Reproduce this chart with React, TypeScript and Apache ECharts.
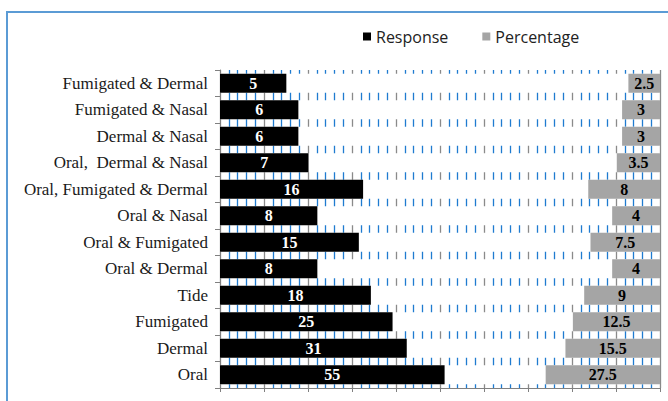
import React, { useEffect, useRef } from "react";
import * as echarts from "echarts";

const categories = [
  "Fumigated & Dermal",
  "Fumigated & Nasal",
  "Dermal & Nasal",
  "Oral,  Dermal & Nasal",
  "Oral, Fumigated & Dermal",
  "Oral & Nasal",
  "Oral & Fumigated",
  "Oral & Dermal",
  "Tide",
  "Fumigated",
  "Dermal",
  "Oral",
];
const responseValues = [5, 6, 6, 7, 16, 8, 15, 8, 18, 25, 31, 55];
const percentageValues = [2.5, 3, 3, 3.5, 8, 4, 7.5, 4, 9, 12.5, 15.5, 27.5];
const gridTicks = 10;

export default function App() {
  const ref = useRef<HTMLDivElement>(null);
  useEffect(() => {
    if (!ref.current) return;
    const chart = echarts.init(ref.current, null, { renderer: "svg" });
    const serif = "'Liberation Serif', 'Times New Roman', serif";
    chart.setOption({
      animation: false,
      backgroundColor: "#ffffff",
      graphic: [
        {
          type: "rect",
          shape: { x: 7, y: 12, width: 700, height: 500 },
          style: { fill: "none", stroke: "#5b9bd5", lineWidth: 2 },
          silent: true,
        },
      ],
      legend: {
        data: ["Response", "Percentage"],
        left: 363,
        top: 28,
        padding: 0,
        itemWidth: 8,
        itemHeight: 8,
        itemGap: 34,
        icon: "rect",
        textStyle: {
          fontFamily: "'Open Sans', sans-serif",
          fontSize: 16,
          color: "#222",
          lineHeight: 17,
        },
      },
      grid: { left: 220, right: 8, top: 70, bottom: 13, containLabel: false },
      xAxis: [
        {
          type: "value",
          min: 0,
          max: gridTicks,
          interval: 1,
          axisLine: { show: true, lineStyle: { color: "#808080" } },
          axisTick: { show: true, length: 4, lineStyle: { color: "#808080" } },
          axisLabel: { show: false },
          splitLine: { show: true, lineStyle: { color: "#8a8a8a", width: 1.3 } },
          minorTick: { show: false, splitNumber: 5 },
          minorSplitLine: { show: true, lineStyle: { color: "#1f7bd0", width: 1.3 } },
        },
        {
          type: "log",
          show: false,
          min: 1.83,
          max: 1438,
          startValue: 1.83,
        },
        {
          type: "log",
          show: false,
          inverse: true,
          min: 1,
          max: 346000,
          startValue: 1,
        },
      ],
      yAxis: {
        type: "category",
        inverse: true,
        data: categories,
        axisLine: { show: true, lineStyle: { color: "#808080" } },
        axisTick: { show: true, length: 5, lineStyle: { color: "#808080" } },
        axisLabel: {
          fontFamily: serif,
          fontSize: 17,
          color: "#1a1a1a",
          margin: 12,
        },
        splitLine: { show: false },
      },
      series: [
        {
          name: "spacer",
          type: "bar",
          xAxisIndex: 0,
          data: categories.map(() => gridTicks),
          barWidth: 19,
          barGap: "-100%",
          itemStyle: { color: "#ffffff" },
          silent: true,
          z: 2,
        },
        {
          name: "Response",
          type: "bar",
          xAxisIndex: 1,
          data: responseValues,
          barWidth: 19,
          barGap: "-100%",
          clip: true,
          itemStyle: { color: "#000000" },
          label: {
            show: true,
            position: "inside",
            color: "#ffffff",
            fontFamily: serif,
            fontWeight: "bold",
            fontSize: 16,
          },
          z: 3,
        },
        {
          name: "Percentage",
          type: "bar",
          xAxisIndex: 2,
          data: percentageValues,
          barWidth: 19,
          barGap: "-100%",
          clip: true,
          itemStyle: { color: "#a5a5a5" },
          label: {
            show: true,
            position: "inside",
            color: "#000000",
            fontFamily: serif,
            fontWeight: "bold",
            fontSize: 16,
          },
          z: 3,
        },
      ],
    });
    return () => chart.dispose();
  }, []);
  return (
    <div
      ref={ref}
      style={{ position: "absolute", left: 0, top: 0, width: 668, height: 401 }}
    />
  );
}
